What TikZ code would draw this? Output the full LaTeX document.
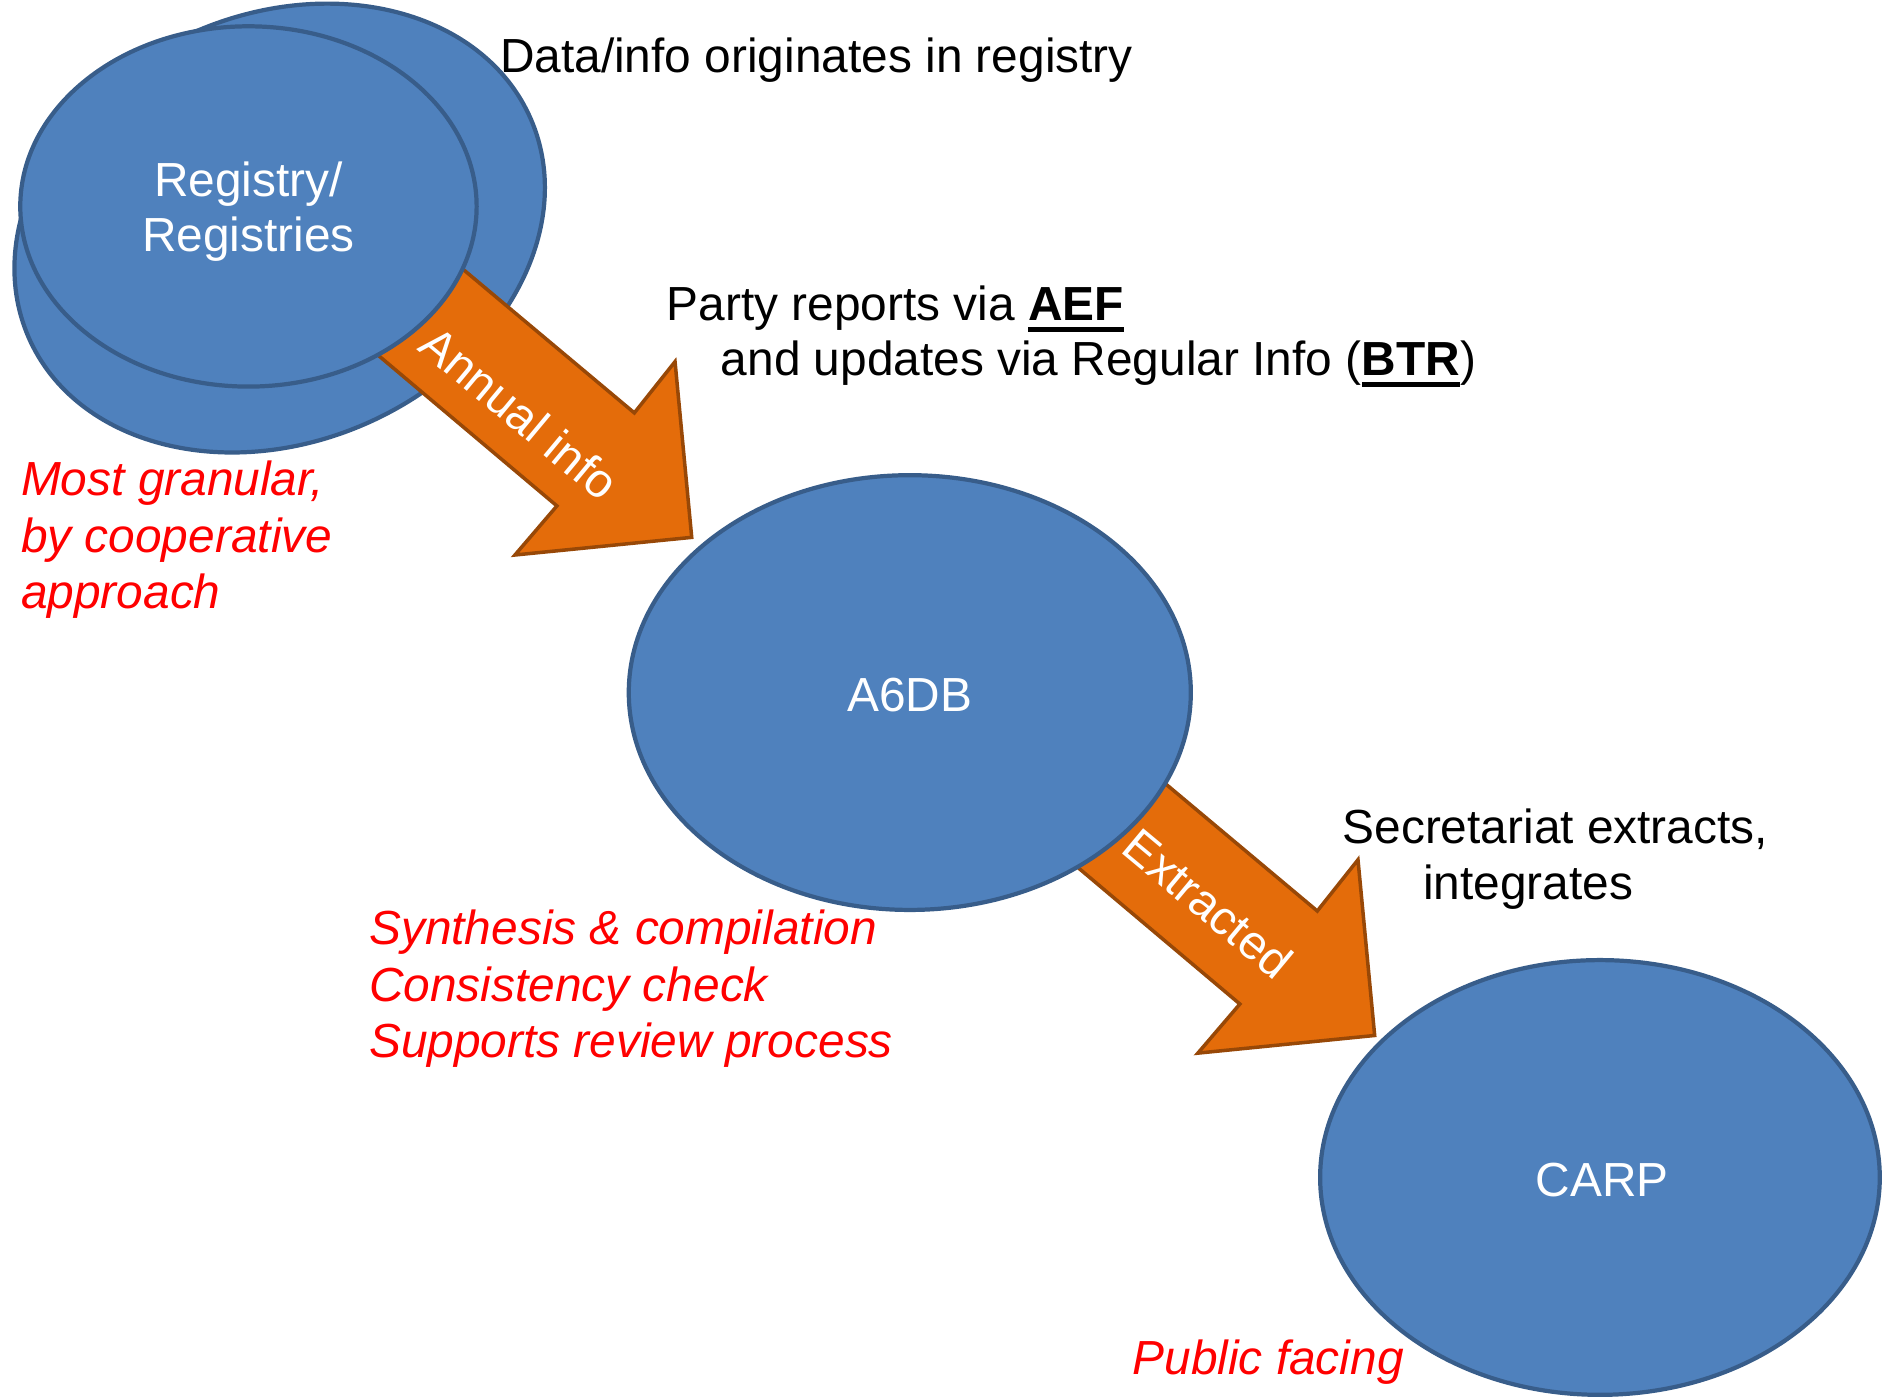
\documentclass[tikz,border=0pt]{standalone}
\usepackage{fontspec}
\setmainfont{Liberation Sans}
\usetikzlibrary{shapes.geometric}
\definecolor{blobfill}{RGB}{79,129,189}
\definecolor{blobline}{RGB}{56,93,138}
\definecolor{arrfill}{RGB}{228,108,10}
\definecolor{arrline}{RGB}{152,72,7}
\definecolor{notered}{RGB}{255,0,0}
\newcommand\tul[1]{\setbox0\hbox{#1}\rlap{\rule[-3.2pt]{\wd0}{1.4pt}}\box0}
\begin{document}
\begin{tikzpicture}[x=0.012cm,y=-0.012cm,
  blob/.style={ellipse, fill=blobfill, draw=blobline, line width=1.2pt, text=white, inner sep=0pt, font=\fontsize{13.6}{15.7}\selectfont, align=center},
  blobtext/.style={text=white, inner sep=0pt, font=\fontsize{13.6}{15.7}\selectfont, align=center},
  bigarrow/.style={fill=arrfill, draw=arrline, line width=1pt, line join=miter},
  arrlabel/.style={text=white, font=\fontsize{13.6}{15.7}\selectfont, rotate=-39.8, inner sep=0pt},
  note/.style={anchor=base west, inner sep=0pt, font=\fontsize{13.6}{15.7}\selectfont},
  rednote/.style={note, text=notered, font=\fontsize{13.6}{15.7}\selectfont\itshape}]
\useasboundingbox (0,0) rectangle (1568,1164);
% back registry ellipse
\node[blob, minimum width=5.472cm, minimum height=4.272cm, rotate=23.5] (regback) at (233,190) {};
% arrow 1
\draw[bigarrow] (317,166.7) -- (528.5,344) -- (562.4,301.3) -- (576.3,447.7) -- (429,462.4) -- (464,421.5) -- (252.6,243.3) -- cycle;
\node[arrlabel] (annual) at (433,344) {Annual info};
% front registry ellipse
\node[blob, minimum width=4.56cm, minimum height=3.6cm] (reg) at (207,172) {};
\node[blobtext] (reglabel) at (207,176) {Registry/\\Registries};
% arrow 2
\draw[bigarrow] (886,581.7) -- (1097.5,759) -- (1131.4,716.3) -- (1145.3,862.7) -- (998,877.4) -- (1033,836.5) -- (821.6,658.3) -- cycle;
\node[arrlabel] (extracted) at (1006.7,752.6) {Extracted};
% A6DB and CARP
\node[blob, minimum width=5.616cm, minimum height=4.344cm] (a6db) at (758,577) {};
\node[blobtext] (a6dblabel) at (758,579) {A6DB};
\node[blob, minimum width=5.592cm, minimum height=4.344cm] (carp) at (1333,981) {};
\node[blobtext] (carplabel) at (1335,983) {CARP};
% black notes
\node[note] (data) at (416,60) {Data/info originates in registry};
\node[note] (party1) at (555,267) {Party reports via \tul{\textbf{AEF}}};
\node[note] (party2) at (600,313) {and updates via Regular Info (\tul{\textbf{BTR}})};
\node[note] (sec1) at (1118,703) {Secretariat extracts,};
\node[note] (sec2) at (1185,749) {integrates};
% red notes
\node[rednote] (r1) at (17,413) {Most granular,};
\node[rednote] (r2) at (17,460) {by cooperative};
\node[rednote] (r3) at (17,507) {approach};
\node[rednote] (s1) at (307,787) {Synthesis \& compilation};
\node[rednote] (s2) at (307,834) {Consistency check};
\node[rednote] (s3) at (307,881) {Supports review process};
\node[rednote] (pf) at (943,1145) {Public facing};
\end{tikzpicture}
\end{document}
